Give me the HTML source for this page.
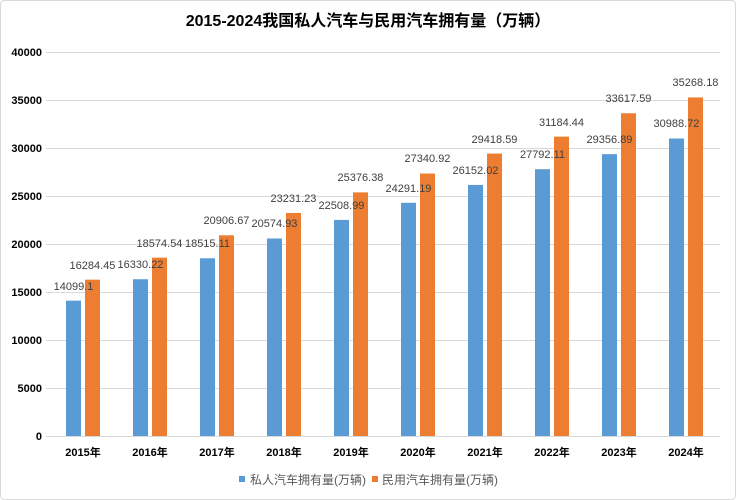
<!DOCTYPE html>
<html><head><meta charset="utf-8"><style>
html,body{margin:0;padding:0;background:#fff;}
svg{display:block;font-family:"Liberation Sans","Noto Sans CJK SC",sans-serif;}
</style></head><body>
<svg width="736" height="500" viewBox="0 0 736 500" xmlns="http://www.w3.org/2000/svg">
<rect x="0.5" y="0.5" width="735" height="499" rx="4" fill="#fff" stroke="#d9d9d9"/>
<text x="368" y="26" text-anchor="middle" font-size="16" font-weight="bold" fill="#000">2015-2024我国私人汽车与民用汽车拥有量（万辆）</text>
<g stroke="#d9d9d9" stroke-width="1">
<line x1="46" x2="720" y1="52.5" y2="52.5"/><line x1="46" x2="720" y1="100.5" y2="100.5"/>
<line x1="46" x2="720" y1="148.5" y2="148.5"/><line x1="46" x2="720" y1="196.5" y2="196.5"/>
<line x1="46" x2="720" y1="244.5" y2="244.5"/><line x1="46" x2="720" y1="292.5" y2="292.5"/>
<line x1="46" x2="720" y1="340.5" y2="340.5"/><line x1="46" x2="720" y1="388.5" y2="388.5"/>
<line x1="46" x2="720" y1="436.5" y2="436.5"/>
</g>
<g font-size="11" font-weight="bold" fill="#000" text-anchor="end">
<text x="42" y="56">40000</text><text x="42" y="104">35000</text><text x="42" y="152">30000</text>
<text x="42" y="200">25000</text><text x="42" y="248">20000</text><text x="42" y="296">15000</text>
<text x="42" y="344">10000</text><text x="42" y="392">5000</text><text x="42" y="440">0</text>
</g>
<g fill="#5b9bd5">
<rect x="66" y="300.65" width="15" height="135.35"/><rect x="133" y="279.23" width="15" height="156.77"/>
<rect x="200" y="258.25" width="15" height="177.75"/><rect x="267" y="238.48" width="15" height="197.52"/>
<rect x="334" y="219.91" width="15" height="216.09"/><rect x="401" y="202.8" width="15" height="233.2"/>
<rect x="468" y="184.94" width="15" height="251.06"/><rect x="535" y="169.2" width="15" height="266.8"/>
<rect x="602" y="154.17" width="15" height="281.83"/><rect x="669" y="138.51" width="15" height="297.49"/>
</g>
<g fill="#ed7d31">
<rect x="85" y="279.67" width="15" height="156.33"/><rect x="152" y="257.68" width="15" height="178.32"/>
<rect x="219" y="235.3" width="15" height="200.7"/><rect x="286" y="212.98" width="15" height="223.02"/>
<rect x="353" y="192.39" width="15" height="243.61"/><rect x="420" y="173.53" width="15" height="262.47"/>
<rect x="487" y="153.58" width="15" height="282.42"/><rect x="554" y="136.63" width="15" height="299.37"/>
<rect x="621" y="113.27" width="15" height="322.73"/><rect x="688" y="97.43" width="15" height="338.57"/>
</g>
<g font-size="11" fill="#404040" text-anchor="middle">
<text x="73.5" y="290">14099.1</text><text x="140.5" y="268">16330.22</text>
<text x="207.5" y="247">18515.11</text><text x="274.5" y="227">20574.93</text>
<text x="341.5" y="209">22508.99</text><text x="408.5" y="192">24291.19</text>
<text x="475.5" y="174">26152.02</text><text x="542.5" y="158">27792.11</text>
<text x="609.5" y="143">29356.89</text><text x="676.5" y="127">30988.72</text>
<text x="92.5" y="269">16284.45</text><text x="159.5" y="247">18574.54</text>
<text x="226.5" y="224">20906.67</text><text x="293.5" y="202">23231.23</text>
<text x="360.5" y="181">25376.38</text><text x="427.5" y="162">27340.92</text>
<text x="494.5" y="143">29418.59</text><text x="561.5" y="126">31184.44</text>
<text x="628.5" y="102">33617.59</text><text x="695.5" y="86">35268.18</text>
</g>
<g font-size="11" font-weight="bold" fill="#000" text-anchor="middle">
<text x="83" y="456">2015年</text><text x="150" y="456">2016年</text><text x="217" y="456">2017年</text>
<text x="284" y="456">2018年</text><text x="351" y="456">2019年</text><text x="418" y="456">2020年</text>
<text x="485" y="456">2021年</text><text x="552" y="456">2022年</text><text x="619" y="456">2023年</text>
<text x="686" y="456">2024年</text>
</g>
<rect x="239" y="476" width="6" height="6" fill="#5b9bd5"/>
<text x="250" y="484" font-size="12" fill="#595959">私人汽车拥有量(万辆)</text>
<rect x="372" y="476" width="6" height="6" fill="#ed7d31"/>
<text x="382" y="484" font-size="12" fill="#595959">民用汽车拥有量(万辆)</text>
</svg>
</body></html>
